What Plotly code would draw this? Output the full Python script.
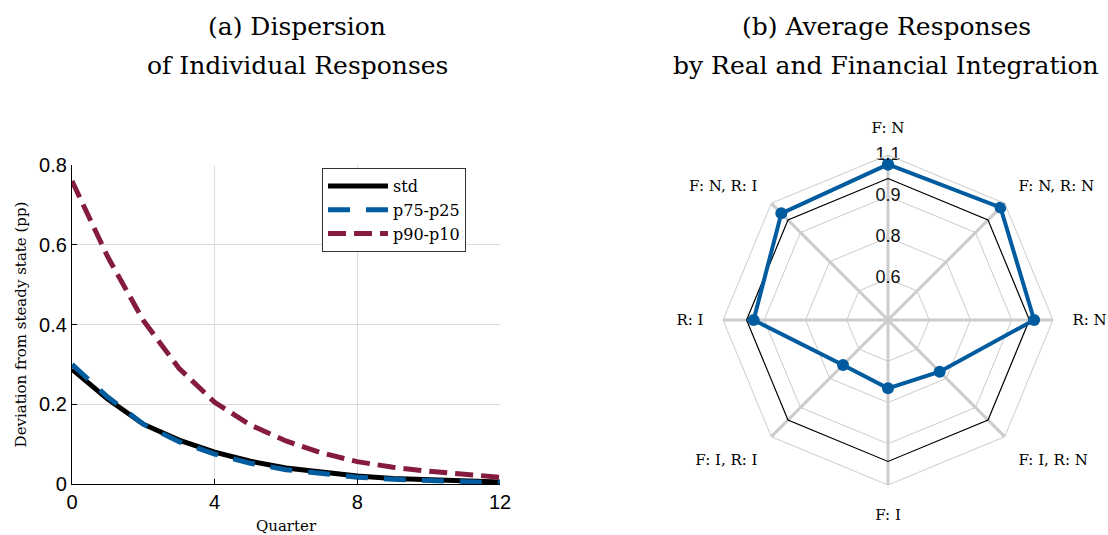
import plotly.graph_objects as go

# ---- Panel (a): dispersion of individual responses ----
quarters = list(range(13))
std_vals = [0.288, 0.213, 0.150, 0.110, 0.080, 0.057, 0.040, 0.029, 0.020, 0.014, 0.010, 0.007, 0.005]
p75_p25 = [0.300, 0.218, 0.150, 0.106, 0.075, 0.052, 0.036, 0.025, 0.017, 0.012, 0.008, 0.005, 0.003]
p90_p10 = [0.760, 0.570, 0.410, 0.290, 0.205, 0.148, 0.108, 0.078, 0.056, 0.042, 0.032, 0.024, 0.017]

x_ticks = [0, 4, 8, 12]
y_ticks = [0, 0.2, 0.4, 0.6, 0.8]
y_ticktext = ["0", "0.2", "0.4", "0.6", "0.8"]

# ---- Panel (b): average responses by integration group ----
groups = ["F: N", "F: N, R: N", "R: N", "F: I, R: N", "F: I", "F: I, R: I", "R: I", "F: N, R: I"]
avg_response = [1.06, 1.075, 1.02, 0.71, 0.69, 0.67, 0.97, 1.04]
baseline = [1.0] * len(groups)
radial_ticks = [0.575, 0.75, 0.925, 1.1]
radial_labels = ["0.6", "0.8", "0.9", "1.1"]

title_a = ["(a) Dispersion", "of Individual Responses"]
title_b = ["(b) Average Responses", "by Real and Financial Integration"]

BLACK = "#000000"
BLUE = "#005c9e"
RED = "#851c3d"
GRID = "#dcdcdc"
SERIF = "DejaVu Serif"
SANS = "Liberation Sans"
W, H = 1108, 535

fig = go.Figure()

fig.add_trace(go.Scatter(x=quarters, y=std_vals, mode="lines", name="std",
                         line=dict(color=BLACK, width=5), xaxis="x", yaxis="y"))
fig.add_trace(go.Scatter(x=quarters, y=p75_p25, mode="lines", name="p75-p25",
                         line=dict(color=BLUE, width=5, dash="22px,16px"), xaxis="x", yaxis="y"))
fig.add_trace(go.Scatter(x=quarters, y=p90_p10, mode="lines", name="p90-p10",
                         line=dict(color=RED, width=5, dash="18px,8px"), xaxis="x", yaxis="y"))

# radar: closed polygons
theta_closed = groups + groups[:1]
fig.add_trace(go.Scatterpolar(r=baseline + baseline[:1], theta=theta_closed, mode="lines",
                              line=dict(color=BLACK, width=1.2), showlegend=False, subplot="polar"))
fig.add_trace(go.Scatterpolar(r=avg_response + avg_response[:1], theta=theta_closed,
                              mode="lines+markers", line=dict(color=BLUE, width=4),
                              marker=dict(color=BLUE, size=12), showlegend=False, subplot="polar"))
fig.add_trace(go.Scatterpolar(r=radial_ticks, theta=[groups[0]] * len(radial_ticks),
                              mode="text", text=radial_labels, textposition="middle center",
                              textfont=dict(family=SANS, size=18, color="#111111"),
                              showlegend=False, hoverinfo="skip", subplot="polar"))


def title_lines(lines, cx, ys):
    return [dict(text=t, x=cx / W, y=1 - yy / H, xref="paper", yref="paper",
                 xanchor="center", yanchor="middle", showarrow=False,
                 font=dict(family=SERIF, size=25, color=BLACK))
            for t, yy in zip(lines, ys)]


fig.update_layout(
    width=W, height=H,
    margin=dict(l=0, r=0, t=0, b=0, autoexpand=False),
    paper_bgcolor="white", plot_bgcolor="white",
    xaxis=dict(domain=[72 / W, 500 / W], range=[0, 12], tickvals=x_ticks, automargin=False,
               showgrid=True, gridcolor=GRID, gridwidth=1, zeroline=False,
               showline=True, linecolor=BLACK, linewidth=1.2,
               ticks="inside", ticklen=5, tickcolor=BLACK,
               tickfont=dict(family=SANS, size=20, color=BLACK),
               title=dict(text="Quarter", font=dict(family=SERIF, size=15, color=BLACK), standoff=8)),
    yaxis=dict(domain=[1 - 484 / H, 1 - 165 / H], range=[0, 0.8], tickvals=y_ticks,
               ticktext=y_ticktext, automargin=False,
               showgrid=True, gridcolor=GRID, gridwidth=1, zeroline=False,
               showline=True, linecolor=BLACK, linewidth=1.2,
               ticks="inside", ticklen=5, tickcolor=BLACK,
               tickfont=dict(family=SANS, size=20, color=BLACK),
               title=dict(text="Deviation from steady state (pp)",
                          font=dict(family=SERIF, size=15, color=BLACK), standoff=8)),
    legend=dict(x=322 / W, y=1 - 168 / H, xanchor="left", yanchor="top",
                bgcolor="white", bordercolor="#333333", borderwidth=1,
                font=dict(family=SERIF, size=16, color=BLACK),
                itemwidth=60, tracegroupgap=0),
    polar=dict(
        domain=dict(x=[(888 - 165) / W, (888 + 165) / W], y=[(215 - 165) / H, (215 + 165) / H]),
        bgcolor="white",
        gridshape="linear",
        radialaxis=dict(range=[0.4, 1.1], tickvals=radial_ticks, showticklabels=False,
                        ticks="", showline=False, gridcolor="#cccccc", gridwidth=1, angle=90),
        angularaxis=dict(rotation=90, direction="clockwise", categoryarray=groups,
                         categoryorder="array",
                         showgrid=True, gridcolor="#cccccc", gridwidth=3,
                         showline=True, linecolor="#cccccc", linewidth=1,
                         ticks="outside", ticklen=16, tickcolor="rgba(0,0,0,0)",
                         tickfont=dict(family=SERIF, size=15, color=BLACK)),
    ),
    annotations=title_lines(title_a, 297, [26, 65]) + title_lines(title_b, 886, [26, 65]),
)

fig.write_html("out.html")
